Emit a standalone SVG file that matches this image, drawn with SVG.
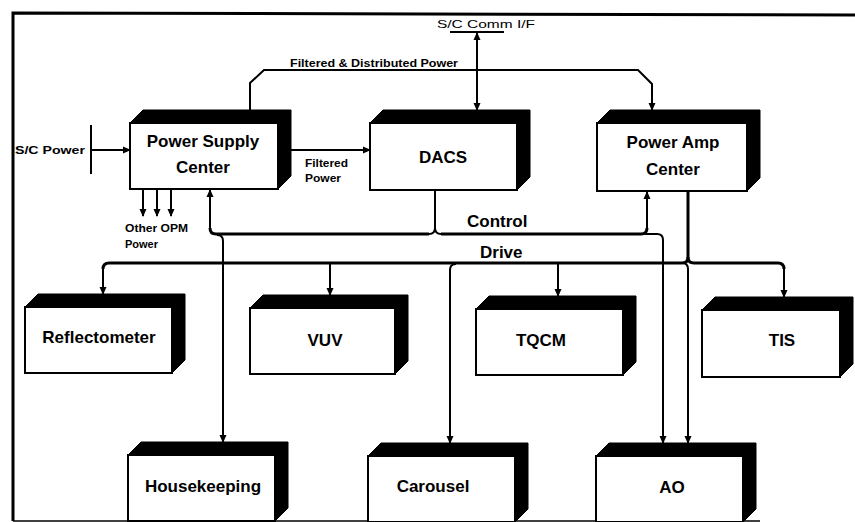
<svg xmlns="http://www.w3.org/2000/svg" width="855" height="522" viewBox="0 0 855 522">
<style>
.t{font-family:"Liberation Sans",Arial,sans-serif;font-weight:bold;fill:#000}
.b{font-size:17px;text-anchor:middle}
.s{font-size:11px}
.front{fill:#fff;stroke:#000;stroke-width:2}
.shade{fill:#000;stroke:#000;stroke-width:1;stroke-linejoin:round}
.ln{fill:none;stroke:#000;stroke-width:2}
.bus{fill:none;stroke:#000;stroke-width:3}
</style>
<defs>
<marker id="ah" markerUnits="userSpaceOnUse" markerWidth="8" markerHeight="8" refX="7" refY="4" orient="auto">
<path d="M0,0.5 L8,4 L0,7.5 z" fill="#000"/>
</marker>
<marker id="as" markerUnits="userSpaceOnUse" markerWidth="8" markerHeight="8" refX="1" refY="4" orient="auto">
<path d="M8,0.5 L0,4 L8,7.5 z" fill="#000"/>
</marker>
</defs>
<rect width="855" height="522" fill="#fff"/>
<g id="frame" fill="none" stroke="#000">
<path d="M13,521 V13 L855,15" stroke-width="3"/>
<path d="M13,521 H760" stroke-width="1.5"/>
</g>

<g id="connectors">
<path class="ln" d="M91,125 V174"/>
<path class="ln" d="M91,150 H130" marker-end="url(#ah)"/>
<path class="ln" d="M143,190 V216" marker-end="url(#ah)"/>
<path class="ln" d="M157,190 V216" marker-end="url(#ah)"/>
<path class="ln" d="M171,190 V216" marker-end="url(#ah)"/>
<path class="ln" d="M278,150 H370" marker-end="url(#ah)"/>
<path class="ln" d="M250,110 V83 L264,70 H638 L652,84 V110" marker-end="url(#ah)"/>
<path class="ln" d="M450,32 H504"/>
<path class="ln" d="M477,33 V110" marker-start="url(#as)" marker-end="url(#ah)"/>
<!-- Control bus -->
<path class="ln" d="M435,190 V228 Q435,234 429,234"/>
<path class="ln" d="M435,228 Q435,234 441,234"/>
<path class="bus" d="M429,234 H216 Q210,234 210,228"/>
<path class="ln" d="M210,229 V190" marker-end="url(#ah)"/>
<path class="bus" d="M441,234 H641 Q647,234 647,228"/>
<path class="ln" d="M647,229 V192" marker-end="url(#ah)"/>
<path class="ln" d="M217,235 Q223,235 223,241 V442" marker-end="url(#ah)"/>
<path class="ln" d="M645,234 H657 Q663,234 663,240 V443" marker-end="url(#ah)"/>
<!-- Drive bus -->
<path class="bus" d="M688,191 V257 Q688,263 682,263"/>
<path class="bus" d="M688,257 Q688,263 694,263"/>
<path class="ln" d="M682,263 Q688,263 688,269 V443" marker-end="url(#ah)"/>
<path class="bus" d="M682,263 H109 Q103,263 103,269"/>
<path class="ln" d="M103,268 V294" marker-end="url(#ah)"/>
<path class="bus" d="M694,263 H778 Q784,263 784,269"/>
<path class="ln" d="M784,268 V297" marker-end="url(#ah)"/>
<path class="ln" d="M330,263 V295" marker-end="url(#ah)"/>
<path class="ln" d="M558,263 V296" marker-end="url(#ah)"/>
<path class="ln" d="M456,264 Q450,264 450,270 V443" marker-end="url(#ah)"/>
</g>

<g id="labels" class="t">
<text class="s" x="15" y="154" font-size="13" textLength="70" lengthAdjust="spacingAndGlyphs">S/C Power</text>
<text class="s" x="437" y="28" font-size="12" font-weight="normal" textLength="98" lengthAdjust="spacingAndGlyphs">S/C Comm I/F</text>
<text class="s" x="290" y="67" textLength="168" lengthAdjust="spacingAndGlyphs">Filtered &amp; Distributed Power</text>
<text class="s" x="305" y="167" textLength="43" lengthAdjust="spacingAndGlyphs">Filtered</text>
<text class="s" x="305" y="182" textLength="36" lengthAdjust="spacingAndGlyphs">Power</text>
<text class="s" x="125" y="232" textLength="63" lengthAdjust="spacingAndGlyphs">Other OPM</text>
<text class="s" x="125" y="248" textLength="33" lengthAdjust="spacingAndGlyphs">Power</text>
<text x="467" y="227" font-size="17">Control</text>
<text x="480" y="258" font-size="17">Drive</text>
</g>

<g id="psc">
<polygon class="shade" points="130,123 143,110 291,110 291,176 278,189 278,123"/>
<rect class="front" x="130" y="123" width="148" height="66"/>
<text class="t b" x="203" y="147">Power Supply</text>
<text class="t b" x="203" y="173">Center</text>
</g>
<g id="dacs">
<polygon class="shade" points="370,123 383,110 530,110 530,177 517,190 517,123"/>
<rect class="front" x="370" y="123" width="147" height="67"/>
<text class="t b" x="443" y="163">DACS</text>
</g>
<g id="pac">
<polygon class="shade" points="597,123 610,110 760,110 760,178 747,191 747,123"/>
<rect class="front" x="597" y="123" width="150" height="68"/>
<text class="t b" x="673" y="148">Power Amp</text>
<text class="t b" x="673" y="175">Center</text>
</g>
<g id="reflectometer">
<polygon class="shade" points="25,307 38,294 185,294 185,360 172,373 172,307"/>
<rect class="front" x="25" y="307" width="147" height="66"/>
<text class="t b" x="99" y="343">Reflectometer</text>
</g>
<g id="vuv">
<polygon class="shade" points="250,308 263,295 408,295 408,361 395,374 395,308"/>
<rect class="front" x="250" y="308" width="145" height="66"/>
<text class="t b" x="325" y="346">VUV</text>
</g>
<g id="tqcm">
<polygon class="shade" points="476,309 489,296 636,296 636,362 623,375 623,309"/>
<rect class="front" x="476" y="309" width="147" height="66"/>
<text class="t b" x="541" y="346">TQCM</text>
</g>
<g id="tis">
<polygon class="shade" points="702,310 715,297 853,297 853,364 840,377 840,310"/>
<rect class="front" x="702" y="310" width="138" height="67"/>
<text class="t b" x="782" y="346">TIS</text>
</g>
<g id="housekeeping">
<polygon class="shade" points="128,455 141,442 288,442 288,508 275,521 275,455"/>
<rect class="front" x="128" y="455" width="147" height="66"/>
<text class="t b" x="203" y="492">Housekeeping</text>
</g>
<g id="carousel">
<polygon class="shade" points="368,456 381,443 528,443 528,509 515,522 515,456"/>
<rect class="front" x="368" y="456" width="147" height="66"/>
<text class="t b" x="433" y="492">Carousel</text>
</g>
<g id="ao">
<polygon class="shade" points="596,456 609,443 756,443 756,509 743,522 743,456"/>
<rect class="front" x="596" y="456" width="147" height="66"/>
<text class="t b" x="672" y="493">AO</text>
</g>
</svg>
